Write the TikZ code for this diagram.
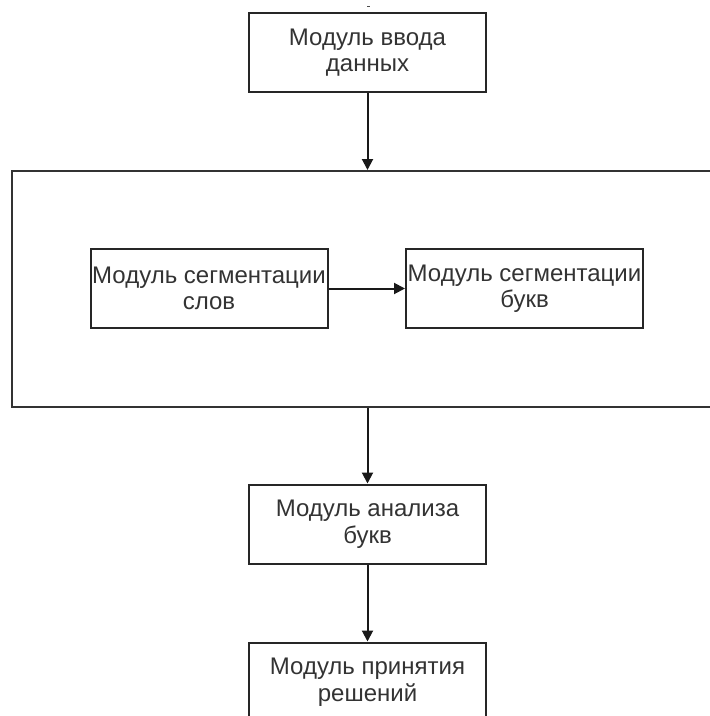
\documentclass[tikz,border=0pt]{standalone}
\usepackage{fontspec}
\setmainfont{Liberation Sans}
\usetikzlibrary{arrows.meta}
\begin{document}
\begin{tikzpicture}[x=1pt,y=-1pt,
  box/.style={draw=black!85, line width=2pt, minimum width=237pt, minimum height=79pt,
    align=center, inner sep=0pt, text=black!80, font=\fontsize{24}{26.5}\selectfont},
  grpbox/.style={draw=black!80, line width=2pt, minimum width=708pt, minimum height=236pt, inner sep=0pt},
  conn/.style={draw=black!90, line width=2pt, -{Triangle[length=11pt,width=11pt]}}]
\useasboundingbox (0,0) rectangle (710,716);
\clip (0,0) rectangle (710,716);
\coordinate (dotL) at (367,6);
\coordinate (dotR) at (369.5,6);
\draw[line width=1pt, black!70] (dotL) -- (dotR);
\node[box] (in) at (367.5,52.5) {Модуль ввода\\данных};
\node[grpbox] (grp) at (366,289) {};
\node[box] (sl) at (209,288.5) {Модуль сегментации\\слов};
\node[box] (sb) at (524.5,288.5) {Модуль сегментации\\букв};
\node[box] (an) at (367.5,524) {Модуль анализа\\букв};
\node[box] (dec) at (367.5,682) {Модуль принятия\\решений};
\draw[conn] (in.south) -- (in.south |- grp.north);
\draw[conn] (sl.east) -- (sb.west);
\draw[conn] (an.north |- grp.south) -- (an.north);
\draw[conn] (an.south) -- (dec.north);
\end{tikzpicture}
\end{document}
